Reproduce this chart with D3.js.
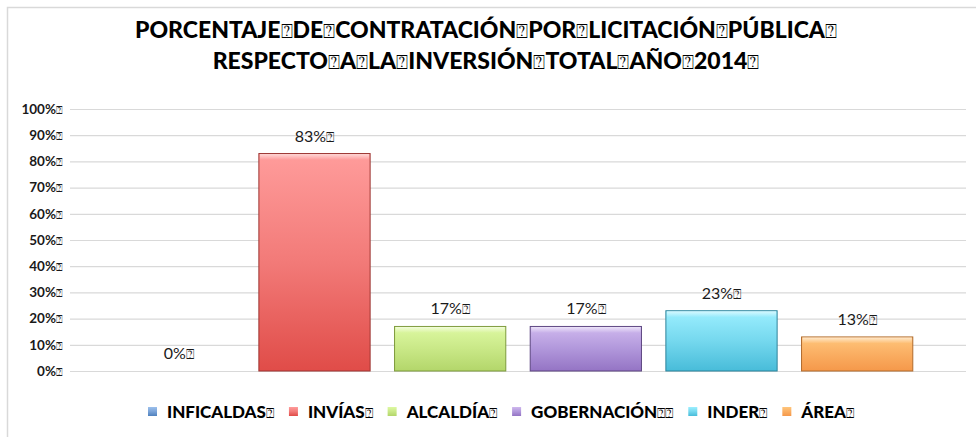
<!DOCTYPE html>
<html>
<head>
<meta charset="utf-8">
<script src="https://cdn.jsdelivr.net/npm/d3@7"></script>
<style>
  html, body { margin: 0; padding: 0; background: #fff; }
  svg { display: block; font-family: Lato, "Open Sans", sans-serif; }
</style>
</head>
<body>
<div id="chart"></div>
<script>
// Porcentaje de contratación por licitación pública - bar chart (D3 v7)

const BOX = "\u2370"; // the unreadable glyph Excel left in the labels

const categories = ["INFICALDAS", "INVÍAS", "ALCALDÍA", "GOBERNACIÓN", "INDER", "ÁREA"];
const values = [0, 0.83, 0.17, 0.17, 0.23, 0.13];
const valueLabels = ["0%" + BOX, "83%" + BOX, "17%" + BOX, "17%" + BOX, "23%" + BOX, "13%" + BOX];
const legendLabels = ["INFICALDAS" + BOX, "INVÍAS" + BOX, "ALCALDÍA" + BOX,
  "GOBERNACIÓN" + BOX + BOX, "INDER" + BOX, "ÁREA" + BOX];
const yTicks = [0, 0.1, 0.2, 0.3, 0.4, 0.5, 0.6, 0.7, 0.8, 0.9, 1];
const titleLines = [
  "PORCENTAJE" + BOX + "DE" + BOX + "CONTRATACIÓN" + BOX + "POR" + BOX + "LICITACIÓN" + BOX + "PÚBLICA" + BOX,
  "RESPECTO" + BOX + "A" + BOX + "LA" + BOX + "INVERSIÓN" + BOX + "TOTAL" + BOX + "AÑO" + BOX + "2014" + BOX
];

// top / middle / bottom / edge colours of each bar
const colorTop = ["#9cc0ec", "#ff9c9b", "#ddf9a2", "#cfb8ee", "#9cefff", "#ffc67c"];
const colorMid = ["#7aa3d8", "#f27a78", "#c9e887", "#b197db", "#75d8ee", "#faae62"];
const colorBottom = ["#4f81bd", "#e04c48", "#b3d66a", "#9474c4", "#48bcd9", "#f5984a"];
const colorEdge = ["#385d8a", "#9c3532", "#7d9a3c", "#5c4580", "#2d839b", "#b06a2c"];

const width = 976, height = 437;

const val = d => values[categories.indexOf(d)];
const idx = d => categories.indexOf(d);

const svg = d3.select("#chart").append("svg")
  .attr("width", width)
  .attr("height", height);

// write a string into a text node, drawing the BOX glyph smaller
function fillText(sel, str) {
  sel.text(null);
  str.split(/(\u2370)/).filter(s => s.length).forEach(part => {
    const t = sel.append("tspan").text(part);
    if (part === BOX) {
      t.style("font-family", "'DejaVu Sans', sans-serif")
        .style("font-weight", "normal")
        .style("font-size", "0.85em");
    }
  });
}

// outer chart frame (runs off the right / bottom edge)
svg.append("rect")
  .attr("x", 7.5).attr("y", 7.5)
  .attr("width", width + 20).attr("height", height + 20)
  .attr("fill", "none")
  .attr("stroke", "#d9d9d9")
  .attr("stroke-width", 1.5);

// title
svg.append("g").selectAll("text")
  .data(titleLines)
  .join("text")
  .attr("x", 486)
  .attr("y", (d, i) => 38 + i * 30.5)
  .attr("text-anchor", "middle")
  .style("font-size", "23px")
  .style("font-weight", "900")
  .style("fill", "#000")
  .each(function (d) { fillText(d3.select(this), d); });

const gridLeft = 70, gridRight = 966;

const y = d3.scaleLinear().domain([0, 1]).range([371, 109]);

const x = d3.scaleBand()
  .domain(categories)
  .range([111, 925])
  .paddingInner(0.18)
  .paddingOuter(0.09);

// y axis with gridlines
const yAxis = svg.append("g")
  .attr("transform", `translate(${gridLeft},0)`)
  .call(d3.axisLeft(y)
    .tickValues(yTicks)
    .tickSize(-(gridRight - gridLeft))
    .tickPadding(7)
    .tickFormat(d => d3.format(".0%")(d) + BOX));

yAxis.select(".domain").remove();
yAxis.selectAll(".tick line").attr("stroke", "#d9d9d9").attr("stroke-width", 1.2);
yAxis.selectAll(".tick text")
  .style("font-family", "Lato, sans-serif")
  .style("font-size", "13.5px")
  .style("font-weight", "bold")
  .style("fill", "#1a1a1a")
  .each(function (d) { fillText(d3.select(this), d3.format(".0%")(d) + BOX); });

// gradients
const defs = svg.append("defs");
categories.forEach((c, i) => {
  const g = defs.append("linearGradient")
    .attr("id", "grad" + i)
    .attr("x1", 0).attr("y1", 0).attr("x2", 0).attr("y2", 1);
  g.append("stop").attr("offset", "0%").attr("stop-color", colorTop[i]);
  g.append("stop").attr("offset", "50%").attr("stop-color", colorMid[i]);
  g.append("stop").attr("offset", "100%").attr("stop-color", colorBottom[i]);
});
const hi = defs.append("linearGradient")
  .attr("id", "bevel")
  .attr("x1", 0).attr("y1", 0).attr("x2", 0).attr("y2", 1);
hi.append("stop").attr("offset", "0%").attr("stop-color", "#fff").attr("stop-opacity", 0.6);
hi.append("stop").attr("offset", "100%").attr("stop-color", "#fff").attr("stop-opacity", 0);

// bars
const bars = svg.append("g").selectAll("g")
  .data(categories)
  .join("g");

bars.append("rect")
  .attr("x", d => x(d))
  .attr("y", d => y(val(d)))
  .attr("width", x.bandwidth())
  .attr("height", d => y(0) - y(val(d)))
  .attr("fill", d => `url(#grad${idx(d)})`)
  .attr("stroke", d => colorEdge[idx(d)])
  .attr("stroke-width", 1);

// light top edge of the bevel
bars.filter(d => val(d) > 0)
  .append("rect")
  .attr("x", d => x(d) + 1)
  .attr("y", d => y(val(d)) + 0.5)
  .attr("width", x.bandwidth() - 2)
  .attr("height", 6)
  .attr("fill", "url(#bevel)");

// value labels
bars.append("text")
  .attr("x", d => x(d) + x.bandwidth() / 2)
  .attr("y", d => y(val(d)) - 12)
  .attr("text-anchor", "middle")
  .style("font-size", "16px")
  .style("fill", "#1a1a1a")
  .each(function (d) { fillText(d3.select(this), valueLabels[idx(d)]); });

// legend
const legend = svg.append("g").attr("transform", "translate(148,418)");
let lx = 0;
legendLabels.forEach((lab, i) => {
  const item = legend.append("g").attr("transform", `translate(${lx},0)`);
  item.append("rect")
    .attr("x", 0).attr("y", -11)
    .attr("width", 9).attr("height", 9)
    .attr("fill", `url(#grad${i})`);
  const t = item.append("text")
    .attr("x", 19)
    .attr("y", 0)
    .style("font-size", "17px")
    .style("font-weight", "900")
    .style("fill", "#000");
  fillText(t, lab);
  lx += 19 + t.node().getComputedTextLength() + 15;
});
</script>
</body>
</html>
